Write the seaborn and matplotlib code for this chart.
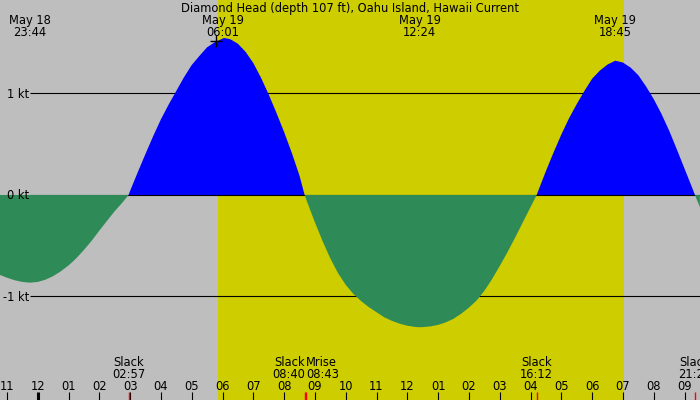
import matplotlib
matplotlib.use("Agg")
import matplotlib.pyplot as plt
import seaborn as sns
import numpy as np
from matplotlib.transforms import blended_transform_factory

# tidal current, hours from midnight May 19
hours = [-1.25, -1.0, -0.75, -0.5, -0.25, 0.0, 0.25, 0.5, 0.75, 1.0, 1.25, 1.5, 1.75,
         2.0, 2.25, 2.5, 2.75, 2.95,
         3.0, 3.25, 3.5, 3.75, 4.0, 4.25, 4.5, 4.75, 5.0, 5.25, 5.5, 5.75, 6.0, 6.05,
         6.25, 6.5, 6.75, 7.0, 7.25, 7.5, 7.75, 8.0, 8.25, 8.5, 8.667,
         8.75, 9.0, 9.25, 9.5, 9.75, 10.0, 10.25, 10.5, 10.75, 11.0, 11.25, 11.5,
         11.75, 12.0, 12.25, 12.4,
         12.5, 12.75, 13.0, 13.25, 13.5, 13.75, 14.0, 14.25, 14.5, 14.75, 15.0,
         15.25, 15.5, 15.75, 16.0, 16.2,
         16.25, 16.5, 16.75, 17.0, 17.25, 17.5, 17.75, 18.0, 18.25, 18.5, 18.75,
         19.0, 19.25, 19.5, 19.75, 20.0, 20.25, 20.5, 20.75, 21.0, 21.25, 21.34, 21.5]
knots = [-0.785, -0.815, -0.840, -0.857, -0.864, -0.857, -0.835, -0.800, -0.752, -0.695,
         -0.625, -0.542, -0.452, -0.352, -0.255, -0.160, -0.075, 0.0,
         0.04, 0.225, 0.405, 0.58, 0.745, 0.89, 1.025, 1.16, 1.28, 1.37, 1.455, 1.505,
         1.54, 1.547,
         1.535, 1.49, 1.41, 1.30, 1.155, 0.99, 0.81, 0.62, 0.415, 0.19, 0.0,
         -0.07, -0.27, -0.455, -0.625, -0.77, -0.885, -0.975, -1.045, -1.105, -1.155,
         -1.205, -1.24, -1.268, -1.288, -1.300, -1.303,
         -1.302, -1.295, -1.28, -1.255, -1.22, -1.17, -1.11, -1.04, -0.945, -0.83,
         -0.70, -0.565, -0.42, -0.27, -0.12, 0.0,
         0.04, 0.235, 0.42, 0.595, 0.755, 0.895, 1.025, 1.145, 1.225, 1.285, 1.323,
         1.305, 1.255, 1.18, 1.07, 0.945, 0.80, 0.635, 0.45, 0.26, 0.07, 0.0, -0.12]

sunrise = 5.84
sunset = 19.03

ext_times = [-0.267, 6.017, 12.4, 18.75]
ext_dates = ["May 18", "May 19", "May 19", "May 19"]
ext_clock = ["23:44", "06:01", "12:24", "18:45"]

slack_times = [2.95, 8.667, 16.2, 21.333]
slack_clock = ["02:57", "08:40", "16:12", "21:20"]
moonrise_time = 8.717
moonrise_clock = "08:43"

tick_hours = list(range(-1, 22))
tick_labels = ["11", "12", "01", "02", "03", "04", "05", "06", "07", "08", "09", "10",
               "11", "12", "01", "02", "03", "04", "05", "06", "07", "08", "09"]

kt_levels = [1, 0, -1]
kt_labels = ["1 kt", "0 kt", "-1 kt"]

title = "Diamond Head (depth 107 ft), Oahu Island, Hawaii Current"

grey = "#bebebe"
day = "#cdcd00"
flood = "#0000ff"
ebb = "#2e8b57"

sns.set_theme(style="white", rc={"axes.facecolor": grey, "figure.facecolor": grey,
                                 "text.color": "black"})
plt.rcParams["font.family"] = ["DejaVu Sans"]
fs = 8.3

fig = plt.figure(figsize=(7, 4), dpi=100)
ax = fig.add_axes([0, 0, 1, 1])
ax.set_xlim(-1.224, 21.503)
ax.set_ylim(-2.020, 1.921)
ax.set_xticks([])
ax.set_yticks([])
sns.despine(ax=ax, left=True, bottom=True)

t = np.array(hours)
v = np.array(knots)

ax.axvspan(sunrise, sunset, color=day, lw=0, zorder=0)
for lv, lab in zip(kt_levels, kt_labels):
    ax.hlines(lv, -0.25, 21.503, color="black", lw=0.8, zorder=1 if lv != 0 else 2.5)
    ax.text(-0.29, lv - 0.04, lab, ha="right", va="baseline", fontsize=fs,
            color="black", zorder=5)

ax.fill_between(t, v, 0, where=v >= 0, interpolate=True, color=flood, lw=0, zorder=2)
ax.fill_between(t, v, 0, where=v <= 0, interpolate=True, color=ebb, lw=0, zorder=3)
ax.plot(5.79, 1.52, marker="+", ms=8, mew=1, color="black", zorder=6)

tr = blended_transform_factory(ax.transData, ax.transAxes)


def py(p):
    return 1 - p / 400.0


def label(x, ypix, s, ha="center"):
    ax.text(x, py(ypix), s, ha=ha, va="baseline", fontsize=fs, color="black",
            transform=tr, zorder=7)


label(10.14, 11.7, title)
for x, d, c in zip(ext_times, ext_dates, ext_clock):
    label(x, 24, d)
    label(x, 36, c)

for x, c in zip(slack_times, slack_clock):
    ha = "right" if abs(x - moonrise_time) < 0.5 else "center"
    label(x, 366, "Slack", ha)
    label(x, 377.7, c, ha)
    ax.vlines(x, 0, 0.02, color="red", lw=1, transform=tr, zorder=6)
label(moonrise_time, 366, "Mrise", "left")
label(moonrise_time, 377.7, moonrise_clock, "left")
ax.vlines(moonrise_time, 0, 0.02, color="red", lw=1, transform=tr, zorder=6)

for h, lab in zip(tick_hours, tick_labels):
    label(h, 390, lab)
    ax.vlines(h, 0, 0.02, color="black", lw=2.2 if h == 0 else 0.8, transform=tr, zorder=5)

fig.savefig("out.png", dpi=100, facecolor=grey)
